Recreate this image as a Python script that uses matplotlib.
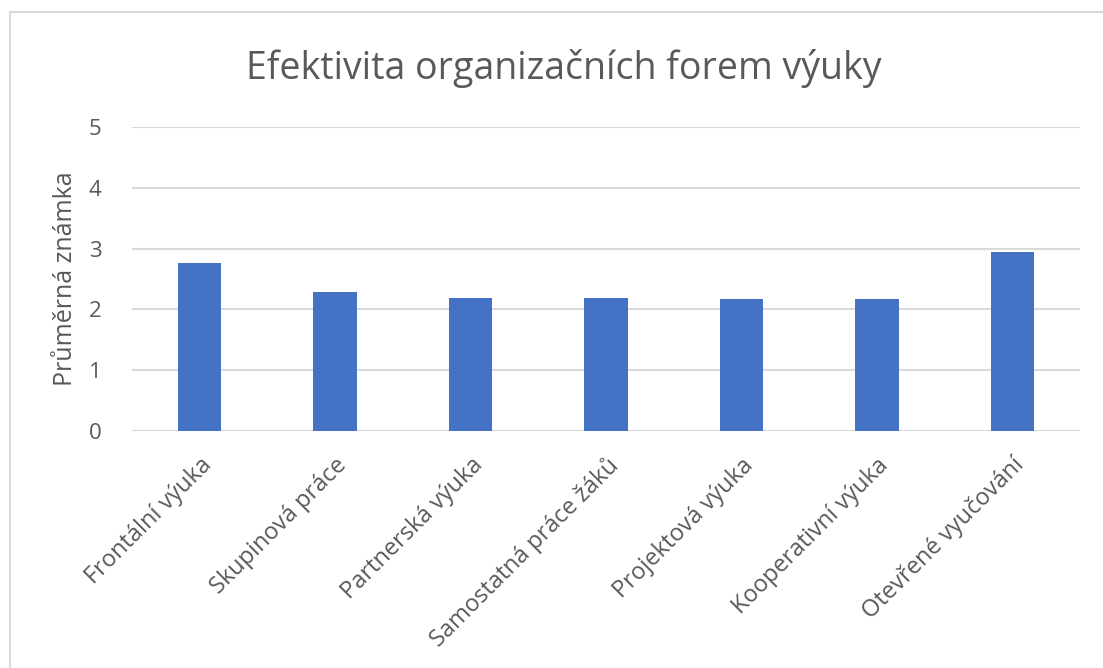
import numpy as np
import matplotlib.pyplot as plt
from matplotlib.patches import Rectangle

# data
categories = ['Frontální výuka', 'Skupinová práce', 'Partnerská výuka',
              'Samostatná práce žáků', 'Projektová výuka', 'Kooperativní výuka',
              'Otevřené vyučování']
values = [2.77, 2.28, 2.19, 2.19, 2.17, 2.17, 2.94]
yticks = [0, 1, 2, 3, 4, 5]

plt.rcParams['font.family'] = ['Open Sans', 'DejaVu Sans']
txt = '#595959'

fig = plt.figure(figsize=(11.03, 6.68), dpi=100)
# outer chart frame
fig.patches.append(Rectangle((10 / 1103, -0.1), 1.2, 1 - 12 / 668 + 0.1,
                             transform=fig.transFigure, fill=False,
                             edgecolor='#d9d9d9', linewidth=1.5))

ax = fig.add_axes([132 / 1103, 1 - 431 / 668, (1080 - 132) / 1103, (431 - 127) / 668])
x = np.arange(len(categories))
ax.bar(x, values, width=0.32, color='#4472C4', zorder=3)

ax.set_ylim(0, 5)
ax.set_xlim(-0.5, len(categories) - 0.5)
ax.set_yticks(yticks)
ax.yaxis.grid(True, color='#d9d9d9', linewidth=1.5, zorder=0)
for s in ax.spines.values():
    s.set_visible(False)
ax.tick_params(length=0, colors=txt)
ax.tick_params(axis='y', pad=22, labelsize=16)
ax.set_xticks(x)
ax.set_xticklabels(categories, rotation=45, ha='right', rotation_mode='anchor')
ax.tick_params(axis='x', pad=16, labelsize=17)
ax.set_ylabel('Průměrná známka', color=txt, fontsize=18, labelpad=8)

fig.text(564 / 1103, 1 - 68 / 668, 'Efektivita organizačních forem výuky',
         ha='center', va='center', color=txt, fontsize=27)

fig.savefig('out.png', dpi=100)
